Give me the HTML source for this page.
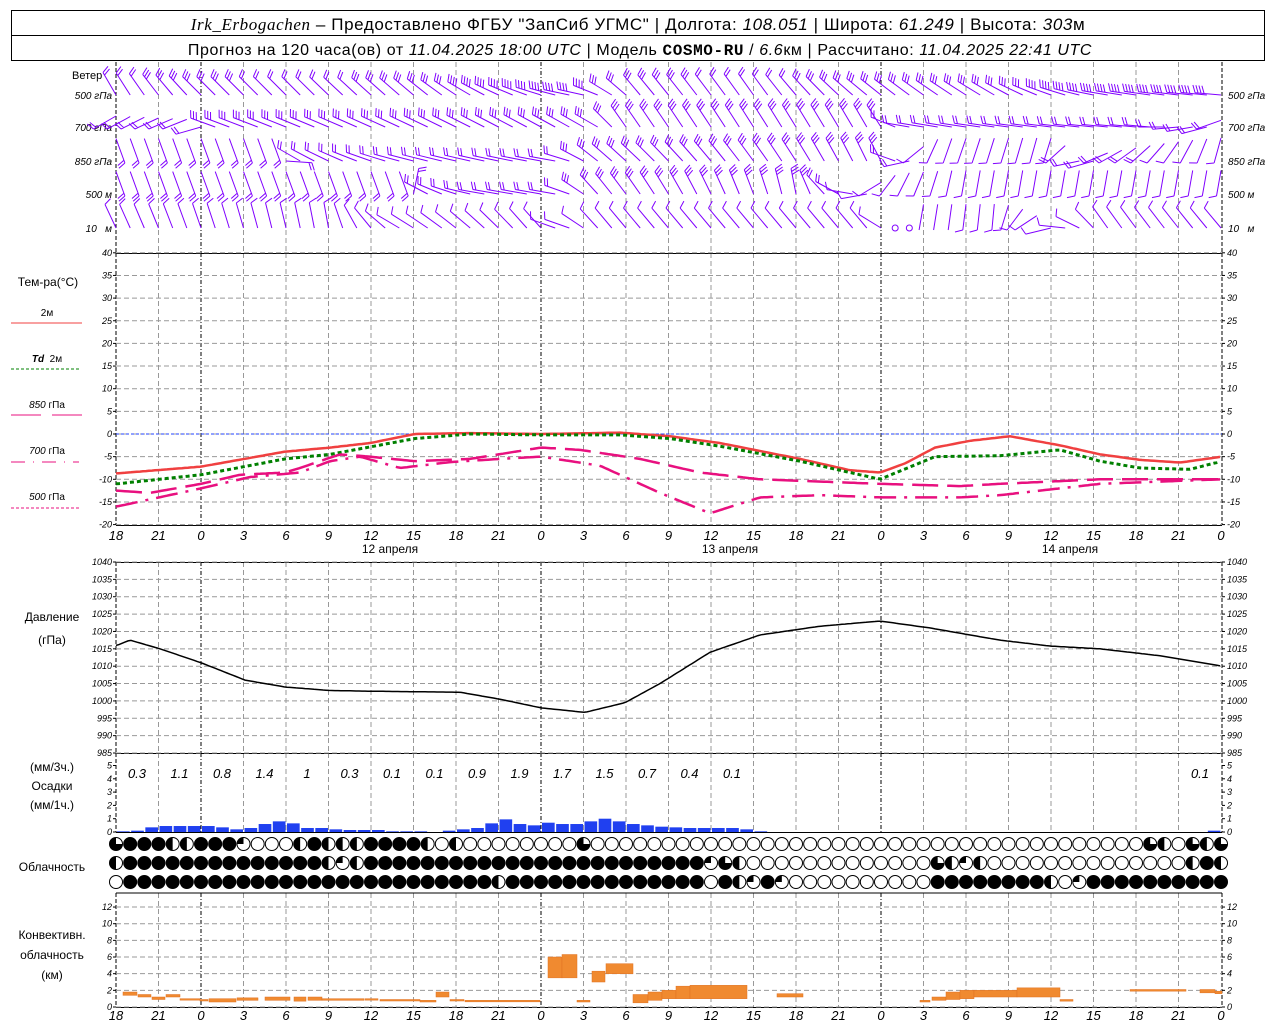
<!DOCTYPE html>
<html><head><meta charset="utf-8"><style>
body{margin:0;background:#fff;width:1280px;height:1024px;overflow:hidden}
svg{display:block;font-family:"Liberation Sans","DejaVu Sans",sans-serif}
</style></head><body>
<svg id="s" width="1280" height="1024" xmlns="http://www.w3.org/2000/svg">
<rect width="1280" height="1024" fill="#fff"/>
<rect x="11.5" y="10.5" width="1253" height="50" fill="none" stroke="#000"/>
<line x1="11" y1="35.5" x2="1265" y2="35.5" stroke="#000"/>
<text x="638" y="30" font-size="17" text-anchor="middle" letter-spacing="0.6"><tspan font-family="Liberation Serif" font-style="italic">Irk_Erbogachen</tspan> – Предоставлено ФГБУ "ЗапСиб УГМС" | Долгота: <tspan font-style="italic">108.051</tspan> | Широта: <tspan font-style="italic">61.249</tspan> | Высота: <tspan font-style="italic">303</tspan>м</text>
<text x="640" y="55" font-size="16" text-anchor="middle" letter-spacing="0.6">Прогноз на 120 часа(ов) от <tspan font-style="italic">11.04.2025 18:00 UTC</tspan> | Модель <tspan font-family="Liberation Mono" font-weight="bold">COSMO-RU</tspan> / <tspan font-style="italic">6.6</tspan>км | Рассчитано: <tspan font-style="italic">11.04.2025 22:41 UTC</tspan></text>
<g font-size="11" fill="#000">
<text x="72" y="79">Ветер</text>
<g font-style="italic" font-size="10"><text x="112" y="99" text-anchor="end">500 гПа</text><text x="112" y="131" text-anchor="end">700 гПа</text><text x="112" y="165" text-anchor="end">850 гПа</text><text x="112" y="198" text-anchor="end">500 м</text><text x="112" y="232" text-anchor="end">10&#160;&#160; м</text>
<text x="1228" y="99">500 гПа</text><text x="1228" y="131">700 гПа</text><text x="1228" y="165">850 гПа</text><text x="1228" y="198">500 м</text><text x="1228" y="232">10&#160;&#160; м</text></g>
<text x="48" y="286" text-anchor="middle" font-size="12">Тем-ра(°C)</text>
<text x="47" y="316" text-anchor="middle" font-size="10">2м</text>
<line x1="11" y1="323" x2="82" y2="323" stroke="#f04040"/>
<text x="47" y="362" text-anchor="middle" font-size="10"><tspan font-style="italic" font-weight="bold">Td</tspan>&#160; 2м</text>
<line x1="11" y1="369" x2="79" y2="369" stroke="#008000" stroke-dasharray="3,2"/>
<text x="47" y="408" text-anchor="middle" font-size="10"><tspan font-style="italic">850</tspan> гПа</text>
<line x1="11" y1="415" x2="82" y2="415" stroke="#e8107f" stroke-dasharray="30,11"/>
<text x="47" y="454" text-anchor="middle" font-size="10"><tspan font-style="italic">700</tspan> гПа</text>
<line x1="11" y1="462" x2="79" y2="462" stroke="#e8107f" stroke-dasharray="14,8,1,8"/>
<text x="47" y="500" text-anchor="middle" font-size="10"><tspan font-style="italic">500</tspan> гПа</text>
<line x1="11" y1="508" x2="79" y2="508" stroke="#e8107f" stroke-dasharray="3,2"/>
<text x="52" y="621" text-anchor="middle" font-size="12">Давление</text>
<text x="52" y="644" text-anchor="middle" font-size="12">(гПа)</text>
<text x="52" y="771" text-anchor="middle" font-size="12">(мм/3ч.)</text>
<text x="52" y="790" text-anchor="middle" font-size="12">Осадки</text>
<text x="52" y="809" text-anchor="middle" font-size="12">(мм/1ч.)</text>
<text x="52" y="871" text-anchor="middle" font-size="12">Облачность</text>
<text x="52" y="939" text-anchor="middle" font-size="12">Конвективн.</text>
<text x="52" y="959" text-anchor="middle" font-size="12">облачность</text>
<text x="52" y="979" text-anchor="middle" font-size="12">(км)</text>
<text x="390" y="553" text-anchor="middle" font-size="12">12 апреля</text>
<text x="730" y="553" text-anchor="middle" font-size="12">13 апреля</text>
<text x="1070" y="553" text-anchor="middle" font-size="12">14 апреля</text>
</g>
<g id="g"></g>
</svg>
<script>
const NS="http://www.w3.org/2000/svg",G=document.getElementById('g');
function el(t,a,txt){const e=document.createElementNS(NS,t);for(const k in a)e.setAttribute(k,a[k]);if(txt!==undefined)e.textContent=txt;G.appendChild(e);return e;}
const X0=116,X1=1222,PH=14.1667;
const hx=h=>X0+h*PH;
function lin(pts,x){if(x<=pts[0][0])return pts[0][1];for(let i=1;i<pts.length;i++){if(x<=pts[i][0]){const a=pts[i-1],b=pts[i];return a[1]+(b[1]-a[1])*(x-a[0])/(b[0]-a[0]);}}return pts[pts.length-1][1];}
const panels=[[62,253],[253,525],[562,753],[753,832],[893,1007]];
for(let k=0;k<=26;k++){const x=X0+k*42.5;const isz=(k%8==2);
 for(const p of panels){ if(k==0||k==26) continue;
  el('line',{x1:x,y1:p[0],x2:x,y2:p[1],stroke:isz?'#000':'#999','stroke-dasharray':isz?'4,2,1,2':'5,3'});}}
for(const p of panels){el('line',{x1:X0,y1:p[0],x2:X0,y2:p[1],stroke:'#000','stroke-dasharray':'4,2'});el('line',{x1:X1,y1:p[0],x2:X1,y2:p[1],stroke:'#000','stroke-dasharray':'4,2'});}
[[253],[525],[562],[753],[832],[892.5],[1007]].forEach(y=>el('line',{x1:X0,y1:y[0]+.5,x2:X1,y2:y[0]+.5,stroke:'#000'}));
function ticks(vals,yf,grid,fs){for(const v of vals){const y=yf(v);
 if(grid) el('line',{x1:X0,y1:y,x2:X1,y2:y,stroke:'#999','stroke-dasharray':'5,3'});
 el('text',{x:X0-4,y:y+3,'font-size':fs||9,'font-style':'italic','text-anchor':'end'},v);
 el('text',{x:X1+5,y:y+3,'font-size':fs||9,'font-style':'italic'},v);
 el('line',{x1:X0-3,y1:y,x2:X0,y2:y,stroke:'#000'});el('line',{x1:X1,y1:y,x2:X1+3,y2:y,stroke:'#000'});}}
const ty=t=>434-t*4.53;
let tv=[];for(let t=40;t>=-20;t-=5)tv.push(t);ticks(tv,ty,true);
const py=p=>562+(1040-p)*3.473;
let pv=[];for(let p=1040;p>=985;p-=5)pv.push(p);ticks(pv,py,true);
const ry=r=>832-r*13.3;ticks([5,4,3,2,1,0],ry,false);
const cy=c=>1007-c*8.33;ticks([12,10,8,6,4,2,0],cy,true);
el('line',{x1:X0,y1:434,x2:X1,y2:434,stroke:'#2040ff','stroke-dasharray':'3,2'});
const hl=[18,21,0,3,6,9,12,15,18,21,0,3,6,9,12,15,18,21,0,3,6,9,12,15,18,21,0];
hl.forEach((h,k)=>{const x=X0+k*42.5;el('text',{x:x,y:540,'font-size':13,'font-style':'italic','text-anchor':'middle'},h);el('text',{x:x,y:1020,'font-size':13,'font-style':'italic','text-anchor':'middle'},h);});
function curve(pts,f,attr){let d='';for(let x=X0;x<=X1;x+=3){d+=(d?'L':'M')+x+','+f(lin(pts,x)).toFixed(1);}el('path',Object.assign({d:d,fill:'none'},attr));}
curve([[117,-8.7],[201,-7.2],[285,-3.9],[330,-3],[370,-2],[415,0],[470,0.2],[541,0],[620,0.3],[670,-0.5],[720,-2],[800,-5.5],[850,-8],[880,-8.5],[905,-6.5],[935,-3],[970,-1.5],[1010,-0.5],[1060,-2.5],[1100,-4.5],[1140,-5.7],[1180,-6.3],[1222,-5]],ty,{stroke:'#f04040','stroke-width':2.5});
curve([[117,-11],[201,-9],[285,-5.5],[330,-4.5],[415,-1],[470,0],[541,-0.2],[620,-0.2],[670,-1],[720,-2.7],[800,-6],[880,-10],[935,-5],[1000,-4.8],[1060,-3.5],[1100,-6],[1140,-7.5],[1190,-7.8],[1222,-6]],ty,{stroke:'#008000','stroke-width':3,'stroke-dasharray':'4,3'});
curve([[117,-12.5],[150,-13],[201,-11],[240,-9],[285,-8.5],[300,-7.5],[340,-4.5],[370,-5],[415,-6],[470,-5.5],[541,-3],[580,-3.5],[640,-5.5],[700,-8.5],[760,-10],[820,-10.5],[880,-11],[960,-11.5],[1000,-11],[1100,-10],[1222,-10]],ty,{stroke:'#e8107f','stroke-width':2.5,'stroke-dasharray':'26,9'});
curve([[117,-16],[201,-12],[250,-9.5],[300,-8.5],[330,-6],[360,-5],[400,-7.5],[450,-6.2],[500,-5.5],[541,-5],[600,-7],[660,-13],[710,-17.5],[760,-14],[820,-13.5],[880,-14],[960,-14],[1000,-13.5],[1100,-11],[1222,-10]],ty,{stroke:'#e8107f','stroke-width':2.5,'stroke-dasharray':'22,8,3,8'});
curve([[117,1016],[130,1017.5],[160,1015],[201,1011],[245,1006],[285,1004],[330,1003],[370,1002.8],[460,1002.5],[500,1000.5],[541,998],[585,996.7],[625,999.5],[660,1005],[710,1014],[760,1019],[820,1021.5],[880,1023],[930,1021],[1000,1017.5],[1050,1015.8],[1100,1015],[1160,1013],[1222,1010]],py,{stroke:'#000','stroke-width':1.5});
const pr=[.05,.1,.35,.45,.45,.45,.45,.35,.2,.3,.6,.8,.65,.3,.3,.2,.15,.15,.15,.05,.05,.05,0,.1,.2,.3,.65,.95,.6,.5,.7,.6,.6,.8,1.0,.8,.6,.5,.4,.35,.3,.3,.3,.3,.2,.05,0];
pr.forEach((v,i)=>{if(v>0)el('rect',{x:hx(i)+1,y:ry(v),width:PH-1.5,height:832-ry(v),fill:'#2040f0'});});
el('rect',{x:hx(77)+1,y:ry(.1),width:PH-1.5,height:832-ry(.1),fill:'#2040f0'});
const tot=['0.3','1.1','0.8','1.4','1','0.3','0.1','0.1','0.9','1.9','1.7','1.5','0.7','0.4','0.1'];
tot.forEach((t,k)=>el('text',{x:X0+21+k*42.5,y:778,'font-size':13,'font-style':'italic','text-anchor':'middle'},t));
el('text',{x:1200,y:778,'font-size':13,'font-style':'italic','text-anchor':'middle'},'0.1');
function row(spec){const a=Array(79).fill('E');for(const [f,t,c] of spec)for(let i=f;i<=t;i++)a[i]=c;return a;}
const r1=row([[0,0,'T'],[1,3,'F'],[4,5,'H'],[6,8,'F'],[9,9,'Q'],[13,13,'H'],[14,14,'F'],[15,17,'H'],[18,21,'F'],[22,22,'H'],[24,24,'H'],[33,33,'T'],[73,73,'T'],[74,74,'H'],[76,76,'T'],[77,77,'H'],[78,78,'T']]);
const r2=row([[0,0,'H'],[1,41,'F'],[15,15,'H'],[16,16,'Q'],[17,17,'H'],[42,42,'Q'],[43,43,'T'],[44,44,'H'],[58,58,'T'],[59,59,'H'],[60,60,'Q'],[61,61,'H'],[76,76,'H'],[77,77,'F'],[78,78,'H']]);
const r3=row([[1,41,'F'],[27,27,'H'],[43,43,'F'],[44,44,'H'],[45,45,'Q'],[46,46,'F'],[47,47,'Q'],[58,65,'F'],[66,66,'H'],[68,68,'Q'],[69,78,'F']]);
[[r1,844],[r2,863],[r3,882]].forEach(([r,y])=>{r.forEach((c,i)=>{const x=hx(i),R=6.5;
 el('circle',{cx:x,cy:y,r:R,fill:c=='F'?'#000':'#fff',stroke:'#000','stroke-width':1});
 if(c=='H')el('path',{d:`M${x},${y-R}A${R},${R} 0 0 0 ${x},${y+R}Z`,fill:'#000'});
 if(c=='T')el('path',{d:`M${x},${y}L${x},${y-R}A${R},${R} 0 1 0 ${x+R},${y}Z`,fill:'#000'});
 if(c=='Q')el('path',{d:`M${x},${y}L${x},${y-R}A${R},${R} 0 0 0 ${x-R},${y}Z`,fill:'#000'});});});
const cv=[[123,137,1.4,1.8],[138,151,1.2,1.5],[152,165,.9,1.2],[166,180,1.2,1.5],[180,200,.85,1.0],[200,208,.8,.9],[209,236,.6,1.0],[237,258,.8,1.1],[265,290,.8,1.2],[294,306,.7,1.2],[308,322,.8,1.2],[322,364,.8,1.0],[365,378,.85,1.0],[380,420,.75,.9],[420,436,.6,.8],[436,449,1.2,1.8],[450,464,.75,.9],[465,540,.7,.8],[548,562,3.5,6],[562,577,3.5,6.3],[577,590,.6,.8],[592,605,3,4.3],[606,633,4,5.2],[633,648,.5,1.5],[648,662,.8,1.8],[662,676,1,2],[676,690,1,2.5],[690,747,1,2.6],[777,803,1.2,1.6],[920,930,.6,.8],[932,946,.8,1.2],[946,960,.9,1.8],[960,974,1,2],[974,1017,1.2,2],[1017,1060,1.2,2.3],[1060,1073,.7,.9],[1130,1186,1.9,2.1],[1200,1215,1.7,2.1],[1215,1222,1.6,1.9]];
cv.forEach(([a,b,l,h])=>el('rect',{x:a,y:cy(h),width:b-a,height:Math.max(1.5,cy(l)-cy(h)),fill:'#f08a30',stroke:'#e07020','stroke-width':.5}));
const lv=[
 {y:95,k:[[117,-30,2],[200,-45,3],[300,-45,2],[420,-50,3],[500,-65,4],[580,-80,4],[640,-40,3],[760,-35,2],[860,-50,3],[1000,-60,3],[1100,-80,4],[1222,-85,4]]},
 {y:127,k:[[117,-120,2],[200,-110,2],[210,-70,3],[600,-60,3],[620,-35,3],[880,-30,3],[900,-80,2],[1150,-85,2],[1222,-110,2]]},
 {y:161,k:[[117,160,2],[280,160,2],[300,-60,2],[400,-75,2],[560,-80,2],[600,-50,3],[880,-25,3],[900,-85,2],[940,-160,1],[1050,-165,1],[1080,-100,2],[1222,-165,1]]},
 {y:194,k:[[117,160,2],[400,160,2],[420,-60,2],[480,-80,2],[560,-80,2],[600,-40,3],[760,-20,3],[800,-10,3],[860,-90,1],[900,-150,1],[960,-170,1],[1222,-170,1]]},
 {y:228,k:[[117,-25,1],[330,-10,1],[400,-60,1],[540,-40,1],[560,-80,1],[600,-40,1],[870,-40,1],[900,-90,0],[920,-170,0],[1000,-175,1],[1100,-35,1],[1222,-40,1]]}];
lv.forEach(L=>{for(let i=0;i<79;i++){const x=hx(i);if(L.y==228&&i>=55&&i<=56){el('circle',{cx:x,cy:L.y,r:3,fill:'none',stroke:'#8000ff'});continue;}
 const a=lin(L.k.map(q=>[q[0],q[1]]),x)*Math.PI/180,n=Math.round(lin(L.k.map(q=>[q[0],q[2]]),x));
 const len=26,sx=Math.sin(a),sy=-Math.cos(a);
 const by=sy>0.3?L.y-len*sy+2:L.y;
 const ex=x+sx*len,ey=by+sy*len;
 let d=`M${x.toFixed(1)},${by.toFixed(1)}L${ex.toFixed(1)},${ey.toFixed(1)}`;
 const fa=a+1.2,fx=Math.sin(fa)*8,fy=-Math.cos(fa)*8;
 for(let j=0;j<n;j++){const px=ex-sx*3*j,py2=ey-sy*3*j;d+=`M${px.toFixed(1)},${py2.toFixed(1)}l${fx.toFixed(1)},${fy.toFixed(1)}`;}
 el('path',{d:d,stroke:'#8000ff',fill:'none','stroke-width':1});}});
</script>
</body></html>
